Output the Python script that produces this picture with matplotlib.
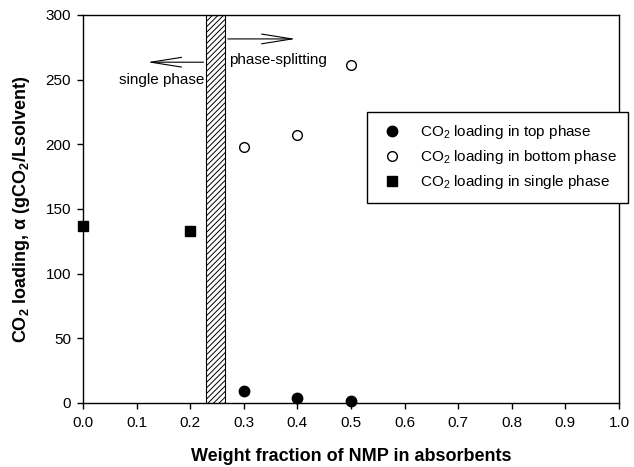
import matplotlib
matplotlib.use("Agg")
import matplotlib.pyplot as plt

plt.rcParams['font.family'] = ['Liberation Sans', 'DejaVu Sans']
plt.rcParams['mathtext.fontset'] = 'custom'
plt.rcParams['mathtext.rm'] = 'Liberation Sans'
plt.rcParams['mathtext.bf'] = 'Liberation Sans:bold'
plt.rcParams['mathtext.default'] = 'regular'
plt.rcParams['hatch.linewidth'] = 0.7

# Data
single_x = [0.0, 0.2]
single_y = [137, 133]
top_x = [0.3, 0.4, 0.5]
top_y = [9, 3.5, 1.5]
bottom_x = [0.3, 0.4, 0.5]
bottom_y = [198, 207, 261]
xticks = [0.0, 0.1, 0.2, 0.3, 0.4, 0.5, 0.6, 0.7, 0.8, 0.9, 1.0]
yticks = [0, 50, 100, 150, 200, 250, 300]
band = (0.23, 0.265)

fig = plt.figure(figsize=(6.34, 4.67), dpi=100)
ax = fig.add_axes([83/634, 1-403/467, (619-83)/634, (403-15)/467])

ax.axvspan(band[0], band[1], facecolor='white', edgecolor='black', hatch='//////', linewidth=0.8, zorder=1)

l1, = ax.plot(top_x, top_y, 'o', color='black', markersize=7.5, linestyle='none', clip_on=False, zorder=3)
l2, = ax.plot(bottom_x, bottom_y, 'o', markerfacecolor='white', markeredgecolor='black', markersize=7, markeredgewidth=1.0, linestyle='none', zorder=3)
l3, = ax.plot(single_x, single_y, 's', color='black', markersize=6.5, linestyle='none', clip_on=False, zorder=3)

ax.set_xlim(0, 1.0)
ax.set_ylim(0, 300)
ax.set_xticks(xticks)
ax.set_xticklabels([f'{v:.1f}' for v in xticks])
ax.set_yticks(yticks)
ax.tick_params(direction='out', length=4.5, width=1, labelsize=11, top=False, right=False, pad=4)
ax.tick_params(axis='x', pad=5)
for s in ax.spines.values():
    s.set_linewidth(1.0)

ax.set_xlabel('Weight fraction of NMP in absorbents', fontsize=13, fontweight='bold', labelpad=13)
ax.set_ylabel(r'$\mathbf{CO_2}$ loading, α (gCO$\mathbf{_2}$/Lsolvent)', fontsize=13, fontweight='bold', labelpad=10)

# Arrows and annotations
ax.annotate('', xy=(0.402, 281.5), xytext=(band[1], 281.5),
            arrowprops=dict(arrowstyle='->,head_length=2.2,head_width=0.35', lw=0.8, color='black'))
ax.annotate('', xy=(0.115, 263.5), xytext=(band[0], 263.5),
            arrowprops=dict(arrowstyle='->,head_length=2.2,head_width=0.35', lw=0.8, color='black'))
ax.text(0.272, 265, 'phase-splitting', fontsize=11, ha='left', va='center')
ax.text(0.227, 250, 'single phase', fontsize=11, ha='right', va='center')

leg = fig.legend([l1, l2, l3],
                 ['CO$_2$ loading in top phase', 'CO$_2$ loading in bottom phase', 'CO$_2$ loading in single phase'],
                 loc='upper left', bbox_to_anchor=(367/634, 1-112/467), borderaxespad=0, fontsize=11,
                 frameon=True, fancybox=False, edgecolor='black', framealpha=1,
                 handletextpad=0.9, borderpad=0.75, labelspacing=0.45, handlelength=1.8)
leg.get_frame().set_linewidth(1.0)

fig.savefig('out.png', dpi=100)
